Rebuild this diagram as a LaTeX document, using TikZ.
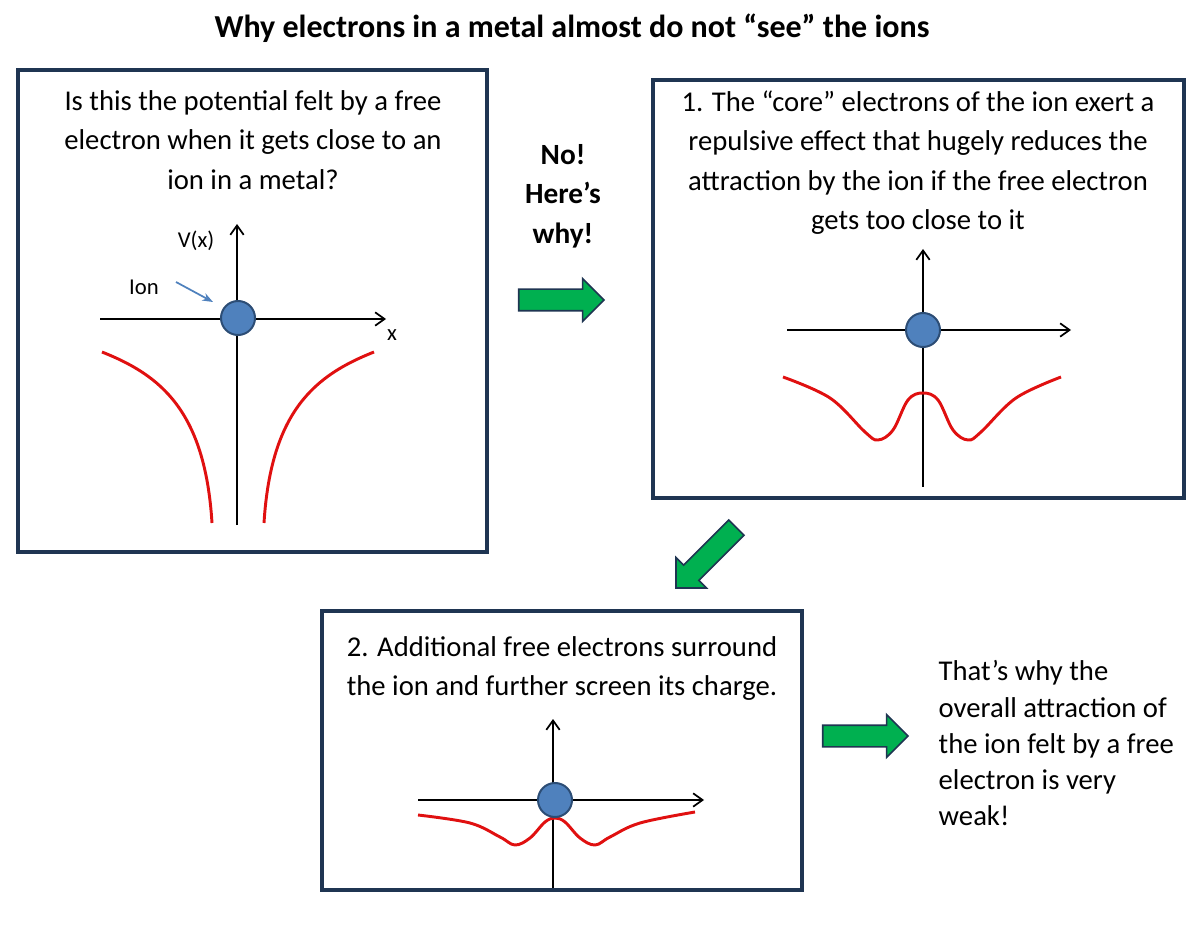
\documentclass[tikz,border=0pt]{standalone}
\usepackage{fontspec}
\setmainfont{Carlito}
\usetikzlibrary{shapes.arrows,arrows.meta}
\definecolor{navy}{HTML}{1F3552}
\definecolor{ionblue}{HTML}{4F81BD}
\definecolor{ionedge}{HTML}{2C4D75}
\definecolor{grn}{HTML}{00B050}
\definecolor{curve}{HTML}{E01010}
\tikzset{
  panel/.style={draw=navy,line width=2.6pt},
  txt/.style={font=\fontsize{21.5}{29.5}\selectfont,align=center,anchor=north},
  axis/.style={line width=1.3pt,-{Straight Barb[length=7pt,width=10pt]}},
  ion/.style={circle,fill=ionblue,draw=ionedge,line width=1.5pt,minimum size=25.5pt,inner sep=0pt},
  pot/.style={curve,line width=2.2pt},
  garrow/.style={single arrow,fill=grn,draw=navy,line width=1.2pt,minimum height=64pt,minimum width=32pt,single arrow head extend=8pt,single arrow tip angle=90,inner sep=7.5pt}
}
\begin{document}
\begin{tikzpicture}[x=0.75pt,y=-0.75pt]
\useasboundingbox (0,0) rectangle (1200,930);
\node[font=\fontsize{24}{26}\selectfont\bfseries] (title) at (572,28) {Why electrons in a metal almost do not “see” the ions};
% panel 1
\draw[panel] (18,70) rectangle (487,552);
\node[txt] (t1) at (253,86) {Is this the potential felt by a free\\electron when it gets close to an\\ion in a metal?};
\draw[axis] (100,319) -- (386,319);
\draw[axis] (237,525) -- (237,224);
\node[font=\fontsize{17}{19}\selectfont] (vx) at (196,241) {V(x)};
\node[font=\fontsize{17}{19}\selectfont] (xl) at (392,335) {x};
\node[font=\fontsize{17}{19}\selectfont] (ionl) at (144,287) {Ion};
\coordinate (ia) at (176,282);
\draw[ionblue,line width=1.3pt,-{Stealth[length=8pt]}] (ia) -- (213,302);
\draw[pot] (102,352) .. controls (160,375) and (205,410) .. (212,523);
\draw[pot] (374,352) .. controls (316,375) and (271,410) .. (264,523);
% middle text
\node[font=\fontsize{22}{29.5}\selectfont\bfseries,align=center] (no) at (563,196) {No!\\Here’s\\why!};
\node[garrow] (g1) at (556,300) {};
% panel 2
\draw[panel] (653,80) rectangle (1184,498);
\node[txt] (t2) at (918,86) {1. The “core” electrons of the ion exert a\\repulsive effect that hugely reduces the\\attraction by the ion if the free electron\\gets too close to it};
\draw[axis] (787,330) -- (1071,330);
\draw[axis] (923,487) -- (923,249);
\draw[pot] plot[smooth,tension=0.6] coordinates {(783,377) (830,398) (865,432) (878,440) (893,430) (908,400) (923,393) (938,400) (953,430) (968,440) (981,432) (1016,398) (1061,377)};
\node[ion] (c2) at (923,330) {};
\node[garrow,rotate=-135] (g2) at (710,554) {};
% panel 3
\draw[panel] (322,611) rectangle (802,890);
\node[txt] (t3) at (562,632) {2. Additional free electrons surround\\the ion and further screen its charge.};
\draw[axis] (418,800) -- (704,800);
\draw[axis] (553,888) -- (553,719);
\draw[pot] plot[smooth,tension=0.6] coordinates {(418,815) (470,823) (500,837) (515,845) (530,838) (545,822) (555,818) (565,822) (580,838) (595,845) (610,837) (640,823) (695,812)};
\node[ion] (c3) at (555,800) {};
\node[ion] (c1) at (238,318) {};
\node[garrow] (g3) at (860,736) {};
\node[font=\fontsize{21.5}{27.2}\selectfont,align=left,anchor=north west] (t4) at (934,656) {That’s why the\\overall attraction of\\the ion felt by a free\\electron is very\\weak!};
\end{tikzpicture}
\end{document}
